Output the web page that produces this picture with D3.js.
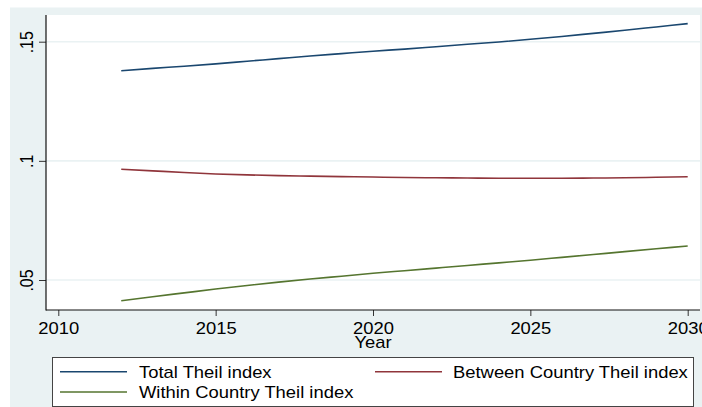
<!DOCTYPE html>
<html>
<head>
<meta charset="utf-8">
<script src="https://cdn.jsdelivr.net/npm/d3@7"></script>
<style>
  html, body { margin: 0; padding: 0; background: #ffffff; }
  svg { display: block; }
  text { font-family: "Liberation Sans", Arial, sans-serif; fill: #000; }
</style>
</head>
<body>
<svg id="chart" width="702" height="407"></svg>
<script>
// Theil index decomposition, 2012-2030
const years = [2012, 2013, 2014, 2015, 2016, 2017, 2018, 2019, 2020, 2021,
               2022, 2023, 2024, 2025, 2026, 2027, 2028, 2029, 2030];
const totalTheil = [0.1378, 0.1388, 0.1397, 0.1407, 0.1418, 0.1429, 0.1440, 0.1450, 0.1460, 0.1469,
                    0.1479, 0.1489, 0.1499, 0.1510, 0.1522, 0.1535, 0.1548, 0.1562, 0.1576];
const betweenTheil = [0.0965, 0.0958, 0.0951, 0.0945, 0.0941, 0.0938, 0.0936, 0.0934, 0.0932, 0.0930,
                      0.0929, 0.0928, 0.0927, 0.0927, 0.0927, 0.0928, 0.0929, 0.0931, 0.0933];
const withinTheil = [0.0413, 0.0430, 0.0446, 0.0462, 0.0477, 0.0491, 0.0504, 0.0516, 0.0528, 0.0539,
                     0.0550, 0.0561, 0.0572, 0.0583, 0.0595, 0.0607, 0.0619, 0.0631, 0.0643];
const xTicks = [2010, 2015, 2020, 2025, 2030];
const yTicks = [0.05, 0.10, 0.15];
const yTickLabels = [".05", ".1", ".15"];
const seriesNames = ["Total Theil index", "Between Country Theil index", "Within Country Theil index"];
const seriesColors = ["#1a476f", "#90353b", "#55752f"];

const series = [totalTheil, betweenTheil, withinTheil];

const svg = d3.select("#chart");
const bg = "#eaf2f3";
const stretch = 1.15;   // horizontal widening of all text
const fontSize = 16;

// outer background
svg.append("rect").attr("x", 10).attr("y", 7.5).attr("width", 692).attr("height", 400).attr("fill", bg);

// plot region
const plot = { left: 46, top: 15, right: 700, bottom: 310 };
svg.append("rect")
  .attr("x", plot.left).attr("y", plot.top)
  .attr("width", plot.right - plot.left).attr("height", plot.bottom - plot.top)
  .attr("fill", "#ffffff");

const x = d3.scaleLinear().domain([2010, 2030]).range([58.3, 687.7]);
const y = d3.scaleLinear().domain([0.05, 0.15]).range([280, 41.7]);

// gridlines
svg.append("g").selectAll("line").data(yTicks).join("line")
  .attr("x1", plot.left).attr("x2", plot.right)
  .attr("y1", d => y(d)).attr("y2", d => y(d))
  .attr("stroke", bg).attr("stroke-width", 1.6);

// series lines
const line = d3.line().x((d, i) => x(years[i])).y(d => y(d)).curve(d3.curveMonotoneX);
svg.append("g").selectAll("path").data(series).join("path")
  .attr("d", d => line(d))
  .attr("fill", "none")
  .attr("stroke", (d, i) => seriesColors[i])
  .attr("stroke-width", 1.6);

// y axis
const yAxis = d3.axisLeft(y).tickValues(yTicks).tickSize(7).tickFormat((d, i) => yTickLabels[i]);
const gy = svg.append("g").attr("transform", `translate(${plot.left},0)`).call(yAxis);
gy.select(".domain").remove();
gy.selectAll(".tick line").attr("stroke", "#333").attr("stroke-width", 1);
gy.selectAll(".tick text")
  .attr("x", null).attr("dy", null)
  .attr("font-size", fontSize)
  .attr("text-anchor", "middle")
  .attr("transform", `translate(-13.5,0) scale(${stretch},1) rotate(-90)`);

// x axis
const xAxis = d3.axisBottom(x).tickValues(xTicks).tickSize(6).tickFormat(d3.format("d"));
const gx = svg.append("g").attr("transform", `translate(0,${plot.bottom})`).call(xAxis);
gx.select(".domain").remove();
gx.selectAll(".tick line").attr("stroke", "#333").attr("stroke-width", 1);
gx.selectAll(".tick text")
  .attr("y", null).attr("dy", null)
  .attr("font-size", fontSize)
  .attr("transform", `translate(0,23.5) scale(${stretch},1)`);

// axis lines
svg.append("line").attr("x1", plot.left).attr("x2", plot.left)
  .attr("y1", plot.top).attr("y2", plot.bottom + 0.5)
  .attr("stroke", "#111").attr("stroke-width", 1.2);
svg.append("line").attr("x1", plot.left).attr("x2", plot.right)
  .attr("y1", plot.bottom).attr("y2", plot.bottom)
  .attr("stroke", "#111").attr("stroke-width", 1.2);

// x axis title
svg.append("text")
  .attr("transform", `translate(${x(2020)},347.5) scale(${stretch},1)`)
  .attr("text-anchor", "middle").attr("font-size", fontSize)
  .text("Year");

// legend
const legend = svg.append("g");
legend.append("rect")
  .attr("x", 52.5).attr("y", 357.5).attr("width", 641).attr("height", 49)
  .attr("fill", "#ffffff").attr("stroke", "#444").attr("stroke-width", 1);
const legendPos = [
  { lx: 60, tx: 139, cy: 371.7 },
  { lx: 375, tx: 453, cy: 371.7 },
  { lx: 60, tx: 139, cy: 392 }
];
const items = legend.selectAll("g.item").data(seriesNames).join("g").attr("class", "item");
items.append("line")
  .attr("x1", (d, i) => legendPos[i].lx).attr("x2", (d, i) => legendPos[i].lx + 67)
  .attr("y1", (d, i) => legendPos[i].cy).attr("y2", (d, i) => legendPos[i].cy)
  .attr("stroke", (d, i) => seriesColors[i]).attr("stroke-width", 1.6);
items.append("text")
  .attr("transform", (d, i) => `translate(${legendPos[i].tx},${legendPos[i].cy + 5.8}) scale(${stretch},1)`)
  .attr("font-size", fontSize)
  .text(d => d);
</script>
</body>
</html>
